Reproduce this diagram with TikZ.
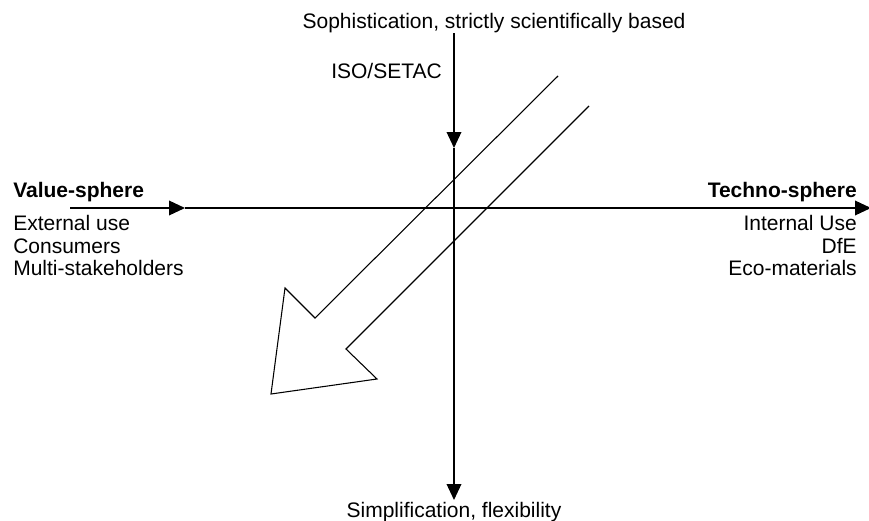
\documentclass[tikz,border=0pt]{standalone}
\usepackage{fontspec}
\setmainfont{Liberation Sans}
\usetikzlibrary{arrows.meta}
\begin{document}
\begin{tikzpicture}[x=0.75pt,y=-0.75pt,
  axisline/.style={line width=1.1pt},
  axis/.style={axisline, -{Triangle[length=12pt,width=11pt]}},
  bigarrow/.style={line width=0.8pt, line join=miter},
  lbl/.style={inner sep=0pt, font=\fontsize{15.75pt}{19pt}\selectfont},
  hd/.style={inner sep=0pt, font=\fontsize{15.75pt}{19pt}\selectfont\bfseries}]
\useasboundingbox (0,0) rectangle (869,521);
% axes
\coordinate (hL) at (70,208);
\coordinate (hM) at (185,208);
\coordinate (hR) at (871,208);
\coordinate (vT) at (454,33);
\coordinate (vM) at (454,148);
\coordinate (vB) at (454,500);
\draw[axis] (hL) -- (hM);
\draw[axis] (hM) -- (hR);
\draw[axis] (vT) -- (vM);
\draw[axis] (vM) -- (vB);
% big open arrow
\coordinate (a1) at (558,76);
\coordinate (a2) at (315,318);
\coordinate (a3) at (285,288);
\coordinate (a4) at (271,394);
\coordinate (a5) at (377,379);
\coordinate (a6) at (346,349);
\coordinate (a7) at (589,106);
\draw[bigarrow] (a1) -- (a2) -- (a3) -- (a4) -- (a5) -- (a6) -- (a7);
% labels
\node[lbl, anchor=base] (top) at (494,28) {Sophistication, strictly scientifically based};
\node[lbl, anchor=base east] (iso) at (442,78) {ISO/SETAC};
\node[lbl, anchor=base] (bot) at (454,517) {Simplification, flexibility};
\node[hd, anchor=base west] (vs) at (13,197) {Value-sphere};
\node[lbl, anchor=base west] (l1) at (13,230) {External use};
\node[lbl, anchor=base west] (l2) at (13,253) {Consumers};
\node[lbl, anchor=base west] (l3) at (13,275) {Multi-stakeholders};
\node[hd, anchor=base east] (ts) at (857,197) {Techno-sphere};
\node[lbl, anchor=base east] (r1) at (857,230) {Internal Use};
\node[lbl, anchor=base east] (r2) at (857,253) {DfE};
\node[lbl, anchor=base east] (r3) at (857,275) {Eco-materials};
\end{tikzpicture}
\end{document}
